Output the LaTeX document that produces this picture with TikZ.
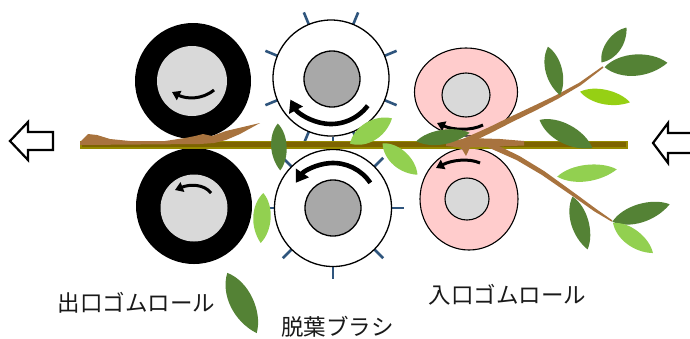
\documentclass[tikz,border=0pt]{standalone}
\usepackage{fontspec}
\newfontfamily\jpfont{Noto Sans CJK JP}
\usetikzlibrary{arrows.meta,shapes.geometric}

\definecolor{rollgray}{RGB}{217,217,217}
\definecolor{coregray}{RGB}{168,168,168}
\definecolor{rollpink}{RGB}{255,204,204}
\definecolor{bristle}{RGB}{47,85,125}
\definecolor{stickfill}{RGB}{125,100,0}
\definecolor{stickedge}{RGB}{150,138,0}
\definecolor{bark}{RGB}{168,115,62}
\definecolor{leafdark}{RGB}{84,130,53}
\definecolor{leaflight}{RGB}{146,208,80}
\definecolor{leaflime}{RGB}{150,208,20}

% leaf: centre x, centre y, rotation, length, width, colour
\newcommand\leafat[6]{%
  \fill[#6, shift={(#1,#2)}, rotate=#3]
    ({-#4/2},0) .. controls ({-#4/4},{-0.66*#5}) and ({#4/4},{-0.62*#5}) .. ({#4/2},0)
    .. controls ({#4/5},{0.64*#5}) and ({-#4/4},{0.66*#5}) .. cycle;}

\tikzset{
  roll/.style={circle, inner sep=0pt},
  bristleline/.style={bristle, line width=2.6pt},
  bigturn/.style={line width=4.6pt, -{Triangle[width=15pt,length=12pt]}},
  smallturn/.style={line width=3pt, -{Triangle[width=10pt,length=8pt]}},
  hollow/.style={draw=black, line width=2.2pt, fill=white, line join=miter},
  lbl/.style={font=\jpfont\fontsize{22.5pt}{26pt}\selectfont, inner sep=0pt, text=black!90}
}

\begin{document}
\begin{tikzpicture}[x=1pt,y=-1pt]
\clip (0,0) rectangle (690,338);
\fill[white] (0,0) rectangle (690,338);

% brush bristles
\foreach \a in {22.5,67.5,...,337.5}
  \draw[bristleline] ([shift={(\a:57)}]331,78) -- ([shift={(\a:71)}]331,78);
\foreach \a in {0,45,...,315}
  \draw[bristleline] ([shift={(\a:57)}]333,208) -- ([shift={(\a:71)}]333,208);

% outlet rubber rolls
\node[roll, fill=black, minimum size=116pt] (outTop) at (193,81) {};
\node[roll, fill=rollgray, minimum size=70pt] (outTopCore) at (192,81) {};
\node[roll, fill=black, minimum size=116pt] (outBot) at (194,206) {};
\node[roll, fill=rollgray, minimum size=67pt] (outBotCore) at (194,208) {};

% defoliating brushes
\node[roll, draw=black, line width=1.3pt, fill=white, minimum size=116pt] (brushTop) at (331,78) {};
\node[roll, draw=black, line width=1.3pt, fill=coregray, minimum size=56pt] (brushTopCore) at (332,79) {};
\node[roll, draw=black, line width=1.3pt, fill=white, minimum size=117pt] (brushBot) at (333,208) {};
\node[roll, draw=black, line width=1.3pt, fill=coregray, minimum size=56pt] (brushBotCore) at (333,208) {};

% inlet rubber rolls
\node[ellipse, inner sep=0pt, draw=black, line width=1.1pt, fill=rollpink, minimum width=103pt, minimum height=88pt] (inTop) at (466,92) {};
\node[ellipse, inner sep=0pt, draw=black, line width=1.1pt, fill=rollgray, minimum width=48pt, minimum height=44pt] (inTopCore) at (466,95) {};
\node[ellipse, inner sep=0pt, draw=black, line width=1.1pt, fill=rollpink, minimum width=98pt, minimum height=102pt] (inBot) at (469,199) {};
\node[ellipse, inner sep=0pt, draw=black, line width=1.1pt, fill=rollgray, minimum width=44pt, minimum height=42pt] (inBotCore) at (467,199) {};

% rotation directions
\draw[bigturn] ([shift={(37:46)}]brushTop.center) arc[start angle=37, end angle=152, radius=46];
\draw[bigturn] ([shift={(-34:45)}]brushBot.center) arc[start angle=-34, end angle=-146, radius=45];
\draw[smallturn] (214,90) .. controls (202,100) and (186,99) .. (172,92);
\draw[smallturn] (211,193) .. controls (204,184) and (190,184) .. (175,190);
\draw[smallturn] (483,125) .. controls (471,131) and (453,130) .. (437,123);
\draw[smallturn] (480,163) .. controls (469,158) and (452,160) .. (436,168);

% stalk
\draw[fill=stickfill, draw=stickedge, line width=1.4pt] (81,141.5) rectangle (627,148);

% bark pieces lying on the stalk
\fill[bark] (80,142) -- (88,134) -- (97,135) -- (110,139) -- (130,141) -- (165,141)
  -- (185,138) -- (195,136) -- (203,134) -- (212,136) -- (226,131) -- (260,123)
  -- (240,134) -- (226,140) -- (214,143) -- (200,144) -- (80,145) -- cycle;
\fill[bark] (446,142) -- (468,138) -- (500,139) -- (524,141) -- (524,145.5)
  -- (470,147.5) -- (466,156) -- (461,147.5) -- (446,146) -- cycle;

% branches
\fill[bark] (458.4,140.9) -- (488.6,127.4) -- (508.7,117.6) -- (533.8,105.8)
  -- (556.1,95.2) -- (579.3,82.7) -- (602.6,66.3) -- (603.4,67.7) -- (580.7,85.3)
  -- (557.9,98.8) -- (536.2,110.2) -- (511.3,122.4) -- (491.4,132.6) -- (461.6,147.1) -- cycle;
\fill[bark] (491.6,142.5) -- (519.3,155.9) -- (544.2,171.1) -- (561.1,183.3)
  -- (577.9,195.5) -- (595.8,208.7) -- (612.4,220.4) -- (611.6,221.6) -- (594.2,211.3)
  -- (576.1,198.5) -- (558.9,186.7) -- (541.8,174.9) -- (516.7,160.1) -- (488.4,147.5) -- cycle;

% leaves
\leafat{554}{71}{-76}{50}{17}{leafdark}
\leafat{614}{45}{54.5}{43}{16}{leafdark}
\leafat{636}{65}{4}{63}{22}{leafdark}
\leafat{605}{97}{-12}{51}{15}{leaflime}
\leafat{566}{134}{-28}{60}{20}{leafdark}
\leafat{443}{137}{9}{54}{15}{leafdark}
\leafat{587}{173}{7}{60}{17}{leaflight}
\leafat{580}{223}{-74}{55}{18}{leafdark}
\leafat{641}{213}{17}{60}{19}{leafdark}
\leafat{633}{238}{-37}{50}{17}{leaflight}
\leafat{400}{159}{-42}{47}{18}{leaflight}
\leafat{279}{147}{-87}{47}{16}{leafdark}
\leafat{371}{131}{31}{49}{20}{leaflight}
\leafat{262}{218}{-93}{50}{18}{leaflight}
\leafat{242}{303}{-64}{67}{24}{leafdark}

% feed direction arrows
\draw[hollow] (10,141) -- (28,122) -- (28,132) -- (53,132) -- (53,150) -- (28,150) -- (28,160) -- cycle;
\draw[hollow] (653,143) -- (668,123) -- (668,133) -- (700,133) -- (700,153) -- (668,153) -- (668,163) -- cycle;

% labels
\node[lbl] (outLbl) at (136.5,302.5) {出口ゴムロール};
\node[lbl] (brushLbl) at (337.5,327) {脱葉ブラシ};
\node[lbl] (inLbl) at (507.5,295) {入口ゴムロール};
\end{tikzpicture}
\end{document}
